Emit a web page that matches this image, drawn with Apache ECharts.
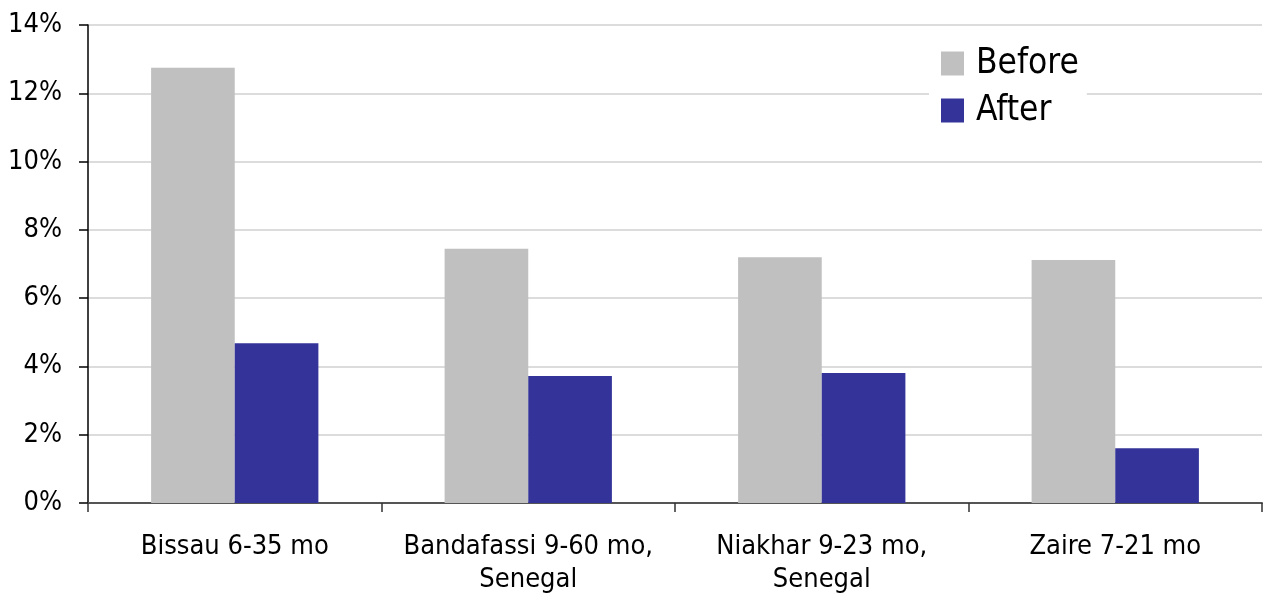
<!DOCTYPE html>
<html>
<head>
<meta charset="utf-8">
<script src="https://cdn.jsdelivr.net/npm/echarts@6/dist/echarts.min.js"></script>
<style>html,body{margin:0;padding:0;background:#fff}#c{width:1264px;height:596px}</style>
</head>
<body>
<div id="c"></div>
<script>
const categories = ["Bissau 6-35 mo", "Bandafassi 9-60 mo,\nSenegal", "Niakhar 9-23 mo,\nSenegal", "Zaire 7-21 mo"];
const beforeValues = [12.75, 7.45, 7.2, 7.12];
const afterValues = [4.68, 3.72, 3.81, 1.6];
const yTicks = { min: 0, max: 14, interval: 2 };

const FONT = '"DejaVu Sans Condensed", "Liberation Sans", sans-serif';
const chart = echarts.init(document.getElementById('c'), null, { renderer: 'canvas' });
chart.setOption({
  animation: false,
  backgroundColor: '#fff',
  grid: { left: 88, right: 2, top: 25, bottom: 92.5, containLabel: false },
  legend: {
    orient: 'vertical',
    left: 929,
    top: 38,
    padding: [8, 8, 8, 12],
    backgroundColor: '#fff',
    itemWidth: 23,
    itemHeight: 24,
    itemGap: 12,
    icon: 'rect',
    textStyle: { fontFamily: FONT, fontSize: 35, color: '#000', padding: [0, 0, 0, 7] },
    data: ['Before', 'After']
  },
  xAxis: {
    type: 'category',
    data: categories,
    axisLine: { show: true, lineStyle: { color: '#555', width: 2 } },
    axisTick: { show: true, alignWithLabel: false, length: 9, lineStyle: { color: '#333', width: 1.5 } },
    axisLabel: { fontFamily: FONT, fontSize: 27, color: '#000', margin: 27, lineHeight: 33, interval: 0 },
    splitLine: { show: false }
  },
  yAxis: {
    type: 'value',
    min: yTicks.min, max: yTicks.max, interval: yTicks.interval,
    axisLine: { show: true, lineStyle: { color: '#000', width: 1.5 } },
    axisTick: { show: true, length: 9, lineStyle: { color: '#000', width: 1.5 } },
    axisLabel: { fontFamily: FONT, fontSize: 27, color: '#000', margin: 26, formatter: v => v + '%' },
    splitLine: { show: true, lineStyle: { color: '#d0d0d0', width: 1.5 } }
  },
  series: [
    { name: 'Before', type: 'bar', data: beforeValues, itemStyle: { color: '#c0c0c0' }, barGap: '0%', barCategoryGap: '43%' },
    { name: 'After', type: 'bar', data: afterValues, itemStyle: { color: '#333399' }, barGap: '0%', barCategoryGap: '43%' }
  ]
});
</script>
</body>
</html>
